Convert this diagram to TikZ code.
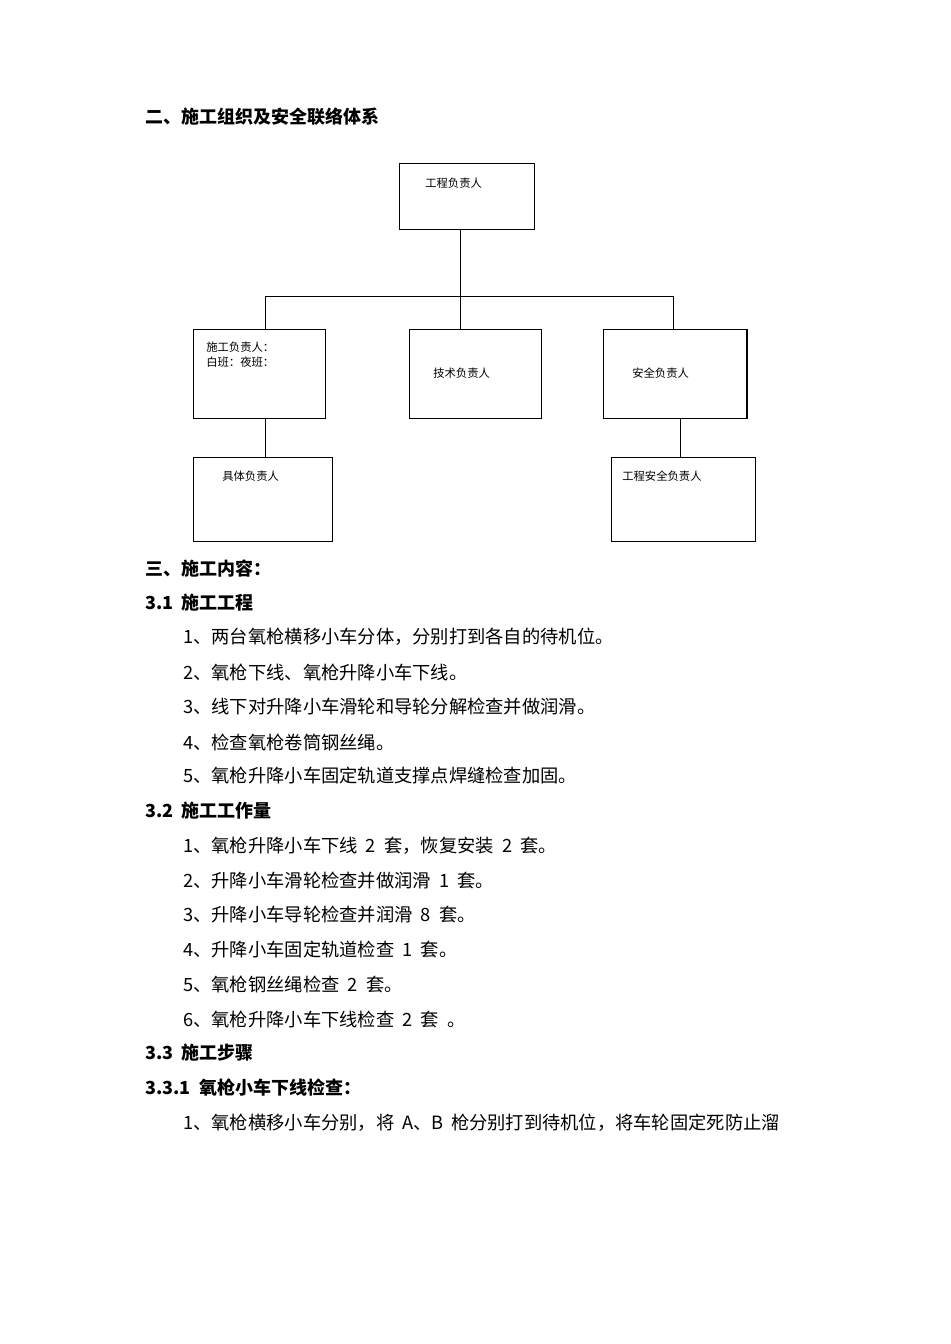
\documentclass[tikz,border=0pt]{standalone}
\usepackage{fontspec}
\setmainfont{Noto Sans CJK SC}
\newfontfamily\cjk{Noto Sans CJK SC}
\begin{document}
\begin{tikzpicture}[x=0.75pt,y=-0.75pt,
  bx/.style={draw,line width=0.7pt},
  ln/.style={line width=0.7pt},
  lb/.style={anchor=west,inner sep=0,font=\fontsize{8.5}{10}\selectfont},
  tx/.style={anchor=west,inner sep=0,font=\fontsize{13.7}{15}\selectfont},
  hd/.style={anchor=west,inner sep=0,font=\fontsize{13.5}{15}\selectfont\bfseries}]
\useasboundingbox[fill=white] (0,0) rectangle (950,1344);
\draw[bx] (399,163) rectangle (534,229); \node[lb] (t0) at (425,183) {工程负责人};
\draw[bx] (193,329) rectangle (325,418); \node[lb] (t1) at (206,347) {施工负责人：};
\node[lb] (t1b) at (206,362) {白班：夜班：};
\draw[bx] (409,329) rectangle (541,418); \node[lb] (t2) at (433,373) {技术负责人};
\draw[bx] (603,329) rectangle (747,418); \draw[line width=1.2pt] (747,329)--(747,418); \node[lb] (t3) at (632,373) {安全负责人};
\draw[bx] (193,457) rectangle (332,541); \node[lb] (t4) at (222,476) {具体负责人};
\draw[bx] (611,457) rectangle (755,541); \node[lb] (t5) at (622,476) {工程安全负责人};
\draw[ln] (460,229)--(460,296);
\draw[ln] (265,296)--(673,296);
\draw[ln] (265,296)--(265,329);
\draw[ln] (460,296)--(460,329);
\draw[ln] (673,296)--(673,329);
\draw[ln] (265,418)--(265,457);
\draw[ln] (680,418)--(680,457);
\node[hd] (h1) at (145,117) {二、施工组织及安全联络体系};
\node[hd] (h2) at (145,569) {三、施工内容：};
\node[hd] (h3) at (145,603) {3.1 \ 施工工程};
\node[tx] at (183,637) {1、两台氧枪横移小车分体，分别打到各自的待机位。};
\node[tx] at (183,672) {2、氧枪下线、氧枪升降小车下线。};
\node[tx] at (183,707) {3、线下对升降小车滑轮和导轮分解检查并做润滑。};
\node[tx] at (183,742) {4、检查氧枪卷筒钢丝绳。};
\node[tx] at (183,776) {5、氧枪升降小车固定轨道支撑点焊缝检查加固。};
\node[hd] at (145,811) {3.2 \ 施工工作量};
\node[tx] at (183,846) {1、氧枪升降小车下线 \ 2 \ 套，恢复安装 \ 2 \ 套。};
\node[tx] at (183,881) {2、升降小车滑轮检查并做润滑 \ 1 \ 套。};
\node[tx] at (183,915) {3、升降小车导轮检查并润滑 \ 8 \ 套。};
\node[tx] at (183,950) {4、升降小车固定轨道检查 \ 1 \ 套。};
\node[tx] at (183,984) {5、氧枪钢丝绳检查 \ 2 \ 套。};
\node[tx] at (183,1019) {6、氧枪升降小车下线检查 \ 2 \ 套 \ 。};
\node[hd] at (145,1053) {3.3 \ 施工步骤};
\node[hd] at (145,1088) {3.3.1 \ 氧枪小车下线检查：};
\node[tx] at (183,1123) {1、氧枪横移小车分别，将 \ A、B \,枪分别打到待机位，将车轮固定死防止溜};
\end{tikzpicture}
\end{document}
